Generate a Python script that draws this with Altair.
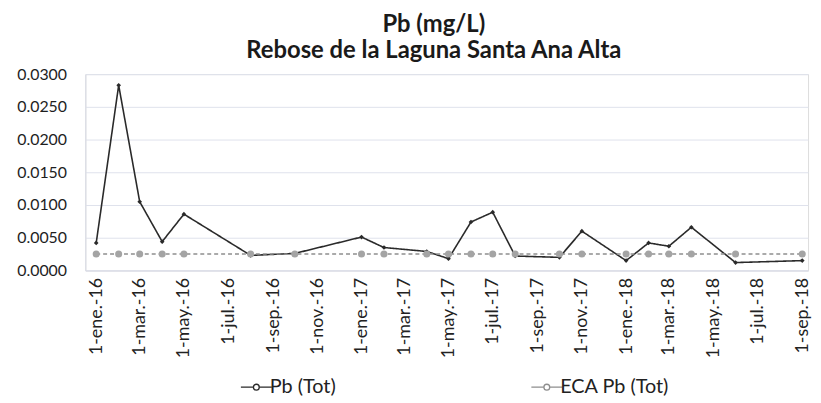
import altair as alt
import pandas as pd

dates = ["2016-01-01", "2016-02-01", "2016-03-01", "2016-04-01", "2016-05-01",
         "2016-08-01", "2016-10-01", "2017-01-01", "2017-02-01", "2017-04-01",
         "2017-05-01", "2017-06-01", "2017-07-01", "2017-08-01", "2017-10-01",
         "2017-11-01", "2018-01-01", "2018-02-01", "2018-03-01", "2018-04-01",
         "2018-06-01", "2018-09-01"]
pb_tot = [0.0042, 0.0283, 0.0105, 0.0044, 0.0086,
          0.0023, 0.0026, 0.0051, 0.0035, 0.0029,
          0.0018, 0.0074, 0.0089, 0.0022, 0.0020,
          0.0060, 0.0015, 0.0042, 0.0037, 0.0066,
          0.0012, 0.0015]
eca_pb = [0.0025] * len(dates)
series = ["Pb (Tot)", "ECA Pb (Tot)"]
tick_dates = [(2016, 1), (2016, 3), (2016, 5), (2016, 7), (2016, 9), (2016, 11),
              (2017, 1), (2017, 3), (2017, 5), (2017, 7), (2017, 9), (2017, 11),
              (2018, 1), (2018, 3), (2018, 5), (2018, 7), (2018, 9)]
y_ticks = [0.0, 0.005, 0.01, 0.015, 0.02, 0.025, 0.03]

rows = []
for d, v in zip(dates, pb_tot):
    rows.append({"fecha": d, "valor": v, "serie": series[0]})
for d, v in zip(dates, eca_pb):
    rows.append({"fecha": d, "valor": v, "serie": series[1]})
df = pd.DataFrame(rows)

FONT = "Lato"
label_expr = ("'1-' + ['ene.','feb.','mar.','abr.','may.','jun.','jul.','ago.','sep.','oct.','nov.','dic.']"
              "[utcmonth(datum.value)] + '-' + utcFormat(datum.value, '%y')")

x = alt.X("fecha:T", title=None,
          scale=alt.Scale(type="utc",
                          domain=[alt.DateTime(year=2015, month=12, date=17, utc=True),
                                  alt.DateTime(year=2018, month=9, date=9, utc=True)]),
          axis=alt.Axis(values=[alt.DateTime(year=y, month=m, date=1, utc=True) for y, m in tick_dates],
                        labelExpr=label_expr, labelAngle=270, labelFontSize=18,
                        labelColor="#222222", labelFont=FONT, labelPadding=7,
                        ticks=False, grid=False, domainColor="#d9dce6", labelFlush=False,
                        labelOverlap=False, labelBaseline="middle", labelAlign="right"))
y = alt.Y("valor:Q", title=None,
          scale=alt.Scale(domain=[0, 0.03], nice=False),
          axis=alt.Axis(values=y_ticks, format=".4f", labelFontSize=16, labelColor="#1e1e1e",
                        labelFont=FONT, labelPadding=19, ticks=False, domainColor="#d9dce6",
                        gridColor="#dfe2ec", gridWidth=1))
color = alt.Color("serie:N", scale=alt.Scale(domain=series, range=["#2a2a2a", "#8e8e8e"]),
                  legend=alt.Legend(title=None, orient="none", legendX=162, legendY=305,
                                    direction="horizontal", columns=2, columnPadding=194,
                                    labelFontSize=20, labelFont=FONT, labelColor="#222222",
                                    symbolType="M-1.6,0L-0.3,0M0.3,0L1.6,0M-0.3,0A0.3,0.3,0,1,1,0.3,0A0.3,0.3,0,1,1,-0.3,0",
                                    symbolSize=380, symbolStrokeWidth=1.3, labelOffset=3))

lines = alt.Chart(df).mark_line(strokeWidth=1.6).encode(
    x=x, y=y, color=color,
    strokeDash=alt.StrokeDash("serie:N", scale=alt.Scale(domain=series, range=[[1, 0], [4, 3]]),
                              legend=None),
    order=alt.Order("fecha:T"))

points = alt.Chart(df).mark_point(filled=True, opacity=1).encode(
    x=x, y=y,
    color=alt.Color("serie:N", scale=alt.Scale(domain=series, range=["#2a2a2a", "#a4a4a4"]), legend=None),
    shape=alt.Shape("serie:N", scale=alt.Scale(domain=series, range=["diamond", "circle"]), legend=None),
    size=alt.Size("serie:N", scale=alt.Scale(domain=series, range=[22, 50]), legend=None))

chart = alt.layer(lines, points).resolve_scale(color="independent").properties(
    width=729, height=198,
    autosize=alt.AutoSizeParams(type="none"),
    padding={"left": 78, "top": 65, "right": 5, "bottom": 130},
    title=alt.Title(["Pb (mg/L)", "Rebose de la Laguna Santa Ana Alta"],
                    font=FONT, fontSize=24, fontWeight="bold", color="#1a1a1a",
                    lineHeight=27, anchor="middle", dx=-13, offset=3),
).configure_view(stroke=None).configure(background="white")

chart.save("out.html", embed_options={"renderer": "svg", "actions": False})
